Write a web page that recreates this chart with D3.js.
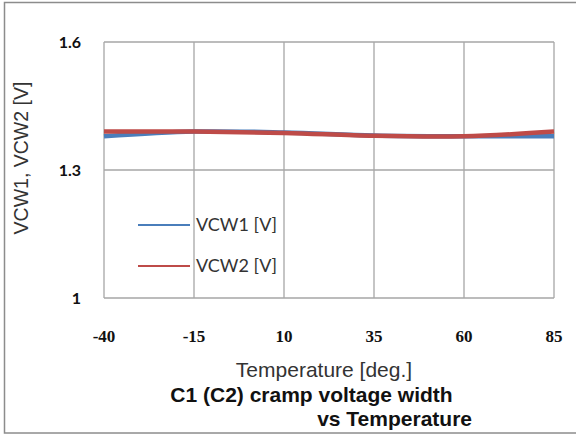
<!DOCTYPE html>
<html><head><meta charset="utf-8">
<script src="https://cdn.jsdelivr.net/npm/d3@7"></script>
<style>body{margin:0;background:#fff}svg{display:block}</style>
</head><body>
<svg id="chart" width="576" height="436"></svg>
<script>
const temps = [-40, -15, 10, 35, 60, 85];
const vcw1 = [1.379, 1.390, 1.388, 1.381, 1.379, 1.379];
const vcw2 = [1.390, 1.390, 1.387, 1.380, 1.379, 1.390];
const yTicks = [1, 1.3, 1.6];
const seriesNames = ["VCW1 [V]", "VCW2 [V]"];
const seriesColors = ["#4a7ebb", "#be4b48"];

const svg = d3.select("#chart");
const x = d3.scaleLinear().domain([-40, 85]).range([104, 554]);
const y = d3.scaleLinear().domain([1, 1.6]).range([298, 42]);

// outer border
svg.append("rect").attr("x", 4.5).attr("y", 2.5).attr("width", 600).attr("height", 430.5)
  .attr("fill", "none").attr("stroke", "#8c8c8c").attr("stroke-width", 1.5);

// grid
const g = svg.append("g");
g.selectAll(".vg").data(temps).enter().append("line")
  .attr("x1", d => x(d)).attr("x2", d => x(d)).attr("y1", y(1.6)).attr("y2", y(1))
  .attr("stroke", "#a6a6a6").attr("stroke-width", 1.3);
g.selectAll(".hg").data(yTicks).enter().append("line")
  .attr("x1", x(-40)).attr("x2", x(85)).attr("y1", d => y(d)).attr("y2", d => y(d))
  .attr("stroke", "#a6a6a6").attr("stroke-width", 1.3);

// y tick labels
svg.selectAll(".yl").data(yTicks).enter().append("text")
  .attr("x", 81).attr("y", d => y(d)).attr("dy", "0.36em")
  .attr("text-anchor", "end").attr("font-family", "Lato, 'Open Sans', sans-serif")
  .attr("font-weight", "bold").attr("font-size", 16).attr("fill", "#111")
  .text(d => d);

// x tick labels
svg.selectAll(".xl").data(temps).enter().append("text")
  .attr("x", d => x(d)).attr("y", 342)
  .attr("text-anchor", "middle").attr("font-family", "'Liberation Serif', serif")
  .attr("font-weight", "bold").attr("font-size", 17).attr("fill", "#111")
  .text(d => d);

// lines
const line = d3.line().x((d, i) => x(temps[i])).y(d => y(d)).curve(d3.curveCatmullRom.alpha(0.5));
[vcw1, vcw2].forEach((s, i) => {
  svg.append("path").datum(s).attr("d", line).attr("fill", "none")
    .attr("stroke", seriesColors[i]).attr("stroke-width", 4.5).attr("stroke-linejoin", "round");
});

// legend
const legY = [225, 266];
seriesNames.forEach((n, i) => {
  svg.append("line").attr("x1", 138).attr("x2", 190).attr("y1", legY[i]).attr("y2", legY[i])
    .attr("stroke", seriesColors[i]).attr("stroke-width", 2.2);
  svg.append("text").attr("x", 196).attr("y", legY[i]).attr("dy", "0.36em")
    .attr("font-family", "Lato, 'Open Sans', sans-serif").attr("font-size", 18).attr("fill", "#333")
    .text(n);
});

// axis titles
svg.append("text").attr("transform", "translate(28,158) rotate(-90)")
  .attr("text-anchor", "middle").attr("font-family", "'Liberation Sans', Arial, sans-serif")
  .attr("font-size", 19.5).attr("fill", "#333").text("VCW1, VCW2 [V]");
svg.append("text").attr("x", 324).attr("y", 377)
  .attr("text-anchor", "middle").attr("font-family", "'Liberation Sans', Arial, sans-serif")
  .attr("font-size", 21).attr("fill", "#333").text("Temperature [deg.]");

// chart title
svg.append("text").attr("x", 311.5).attr("y", 402)
  .attr("text-anchor", "middle").attr("font-family", "'Liberation Sans', Arial, sans-serif")
  .attr("font-weight", "bold").attr("font-size", 21).attr("fill", "#111").text("C1 (C2) cramp voltage width");
svg.append("text").attr("x", 472).attr("y", 426)
  .attr("text-anchor", "end").attr("font-family", "'Liberation Sans', Arial, sans-serif")
  .attr("font-weight", "bold").attr("font-size", 21).attr("fill", "#111").text("vs Temperature");
</script>
</body></html>
